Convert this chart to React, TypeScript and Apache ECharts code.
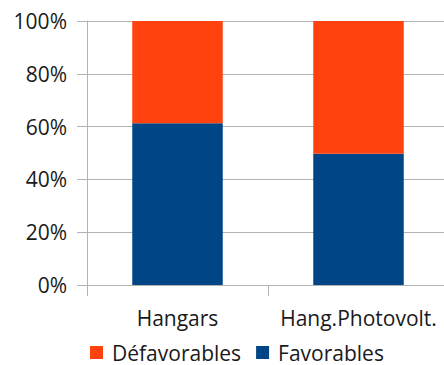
import React, { useEffect, useRef } from "react";
import * as echarts from "echarts";

const categories = ["Hangars", "Hang.Photovolt."];
const favorables = [61.3, 49.7];
const defavorables = [38.7, 50.3];
const yTicks = [0, 20, 40, 60, 80, 100];

export default function App() {
  const ref = useRef<HTMLDivElement>(null);
  useEffect(() => {
    const chart = echarts.init(ref.current!, null, { renderer: "svg" });
    const font = "'Open Sans', sans-serif";
    chart.setOption({
      animation: false,
      textStyle: { fontFamily: font },
      grid: { left: 87, width: 362, top: 21, height: 264, containLabel: false, outerBoundsMode: "none" },
      legend: {
        data: ["Défavorables", "Favorables"],
        left: 90,
        top: 342,
        padding: 0,
        itemWidth: 13,
        itemHeight: 13,
        itemGap: 15,
        icon: "rect",
        textStyle: { fontSize: 21, lineHeight: 21, color: "#1a1a1a", fontFamily: font, padding: [0, 0, 0, 4] },
      },
      xAxis: {
        type: "category",
        data: categories,
        axisLine: { show: true, lineStyle: { color: "#b3b3b3", width: 1 } },
        axisTick: { show: true, length: 11, lineStyle: { color: "#b3b3b3" } },
        axisLabel: { fontSize: 21, color: "#1a1a1a", margin: 22, fontFamily: font, interval: 0, hideOverlap: false },
      },
      yAxis: {
        type: "value",
        min: 0,
        max: 100,
        interval: 20,
        axisLine: { show: true, lineStyle: { color: "#b3b3b3", width: 1 } },
        axisTick: { show: true, length: 10, lineStyle: { color: "#b3b3b3" } },
        splitLine: { show: true, lineStyle: { color: "#b3b3b3", width: 1 } },
        axisLabel: {
          fontSize: 21,
          color: "#1a1a1a",
          margin: 20,
          fontFamily: font,
          formatter: (v: number) => (yTicks.includes(v) ? v + "%" : ""),
        },
      },
      series: [
        {
          name: "Favorables",
          type: "bar",
          stack: "s",
          barWidth: "50%",
          data: favorables,
          itemStyle: { color: "#004586" },
        },
        {
          name: "Défavorables",
          type: "bar",
          stack: "s",
          barWidth: "50%",
          data: defavorables,
          itemStyle: { color: "#ff420e" },
        },
      ],
    });
    return () => chart.dispose();
  }, []);
  return <div ref={ref} style={{ width: 444, height: 365, position: "absolute", left: 0, top: 0 }} />;
}
